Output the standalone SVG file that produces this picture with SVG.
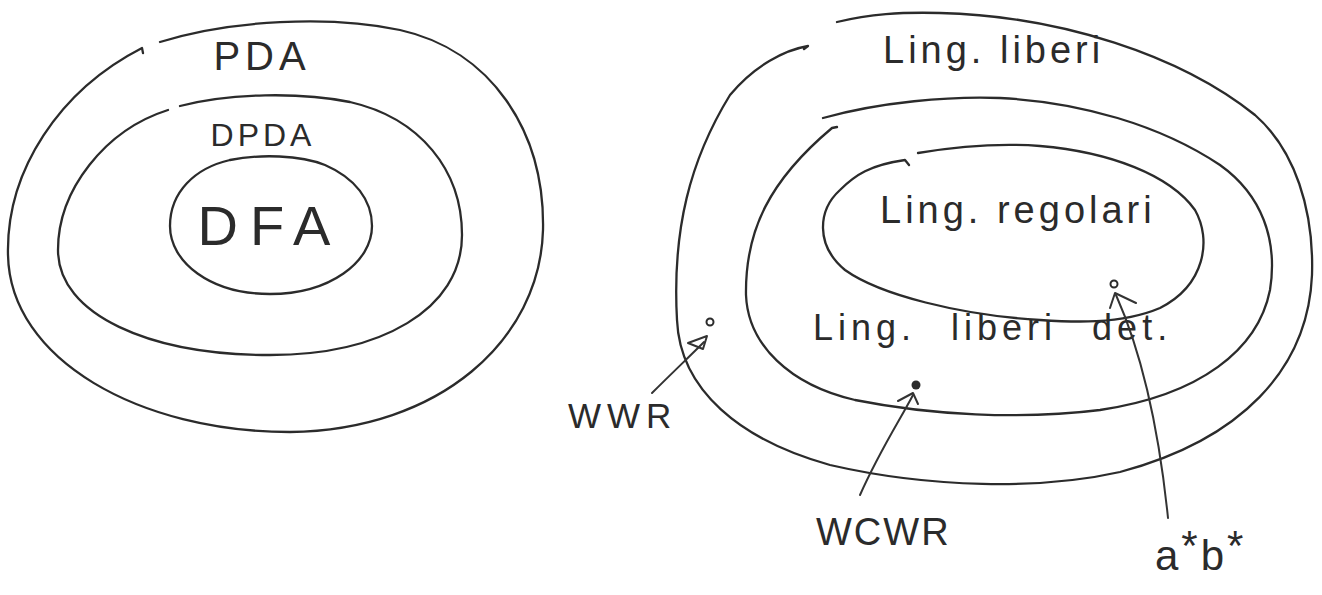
<svg xmlns="http://www.w3.org/2000/svg" width="1322" height="595" viewBox="0 0 1322 595">
<style>
.ln{fill:none;stroke:#2b2b2b;stroke-width:2.3;stroke-linecap:round;stroke-linejoin:round}
.ar{fill:none;stroke:#333;stroke-width:2;stroke-linecap:round;stroke-linejoin:round}
.t{font-family:"Liberation Sans",Arial,sans-serif;fill:#2b2b2b}
.pt{fill:#fff;stroke:#2b2b2b;stroke-width:2}
</style>
<rect width="1322" height="595" fill="#ffffff"/>
<g id="pda">
<path class="ln" d="M160,42 C230,20 330,15 400,30 C490,50 545,130 543,230 C540,340 440,430 290,432 C140,432 10,360 8,255 C6,170 60,90 142,48 l1,5"/>
<text class="t" x="262" y="70" font-size="40" letter-spacing="5" text-anchor="middle">PDA</text>
</g>
<g id="dpda">
<path class="ln" d="M180,106 C230,93 300,92 350,102 C420,118 462,170 462,235 C462,310 380,355 270,355 C150,355 58,315 58,250 C58,190 105,130 168,110"/>
<text class="t" x="263" y="146" font-size="32" letter-spacing="4" text-anchor="middle">DPDA</text>
</g>
<g id="dfa">
<path class="ln" d="M230,160 C260,154 300,155 325,165 C355,178 372,200 372,226 C372,262 330,294 270,294 C210,294 170,262 170,226 C170,192 195,168 230,160"/>
<text class="t" x="270" y="245" font-size="56" letter-spacing="12" text-anchor="middle">DFA</text>
</g>
<g id="cfl">
<path class="ln" d="M837,22 C870,14 900,12 940,13 C1060,16 1180,55 1255,115 C1295,150 1314,210 1312,275 C1308,370 1240,440 1120,472 C1040,490 930,488 830,465 C740,440 680,390 677,320 C672,230 690,160 730,95 C755,65 785,50 808,46 l-4,3"/>
<text class="t" x="883" y="63" font-size="38" letter-spacing="4">Ling. liberi</text>
</g>
<g id="dcfl">
<path class="ln" d="M823,118 C880,102 950,96 1000,98 C1080,102 1160,125 1220,165 C1262,195 1278,240 1270,290 C1258,350 1200,395 1100,410 C1020,420 930,415 855,400 C790,385 748,345 746,295 C745,230 770,180 832,128 l5,-1"/>
<text class="t" x="813" y="340" font-size="36" letter-spacing="5" word-spacing="20">Ling. liberi det.</text>
</g>
<g id="reg">
<path class="ln" d="M918,153 C960,146 1000,143 1040,146 C1110,152 1170,175 1195,210 C1212,240 1205,285 1160,308 C1120,325 1070,322 1040,320 C960,315 880,295 845,270 C815,245 818,210 840,190 C855,175 870,165 905,160 l4,5"/>
<text class="t" x="880" y="223" font-size="38" letter-spacing="4">Ling. regolari</text>
</g>
<g id="wwr">
<circle class="pt" cx="710" cy="322" r="3.5"/>
<text class="t" x="568" y="428" font-size="35" letter-spacing="6">WWR</text>
</g>
<g id="wcwr">
<circle cx="916" cy="385" r="4.5" fill="#2b2b2b"/>
<text class="t" x="816" y="545" font-size="38" letter-spacing="2">WCWR</text>
</g>
<g id="astarbstar">
<circle class="pt" cx="1114" cy="284" r="3.5"/>
<text class="t" x="1155" y="570" font-size="42" letter-spacing="3">a<tspan dy="-10">*</tspan><tspan dy="10">b</tspan><tspan dy="-10">*</tspan></text>
</g>
<g id="connectors">
<path class="ar" d="M652,393 C670,375 690,356 704,342"/>
<path class="ar" d="M688,343 L707,336 L703,349 Z"/>
<path class="ar" d="M860,495 C880,450 900,420 913,395"/>
<path class="ar" d="M898,401 L913,393 L918,404"/>
<path class="ar" d="M1168,518 C1160,440 1145,360 1116,295"/>
<path class="ar" d="M1110,308 L1115,293 L1136,303"/>
</g>
</svg>
